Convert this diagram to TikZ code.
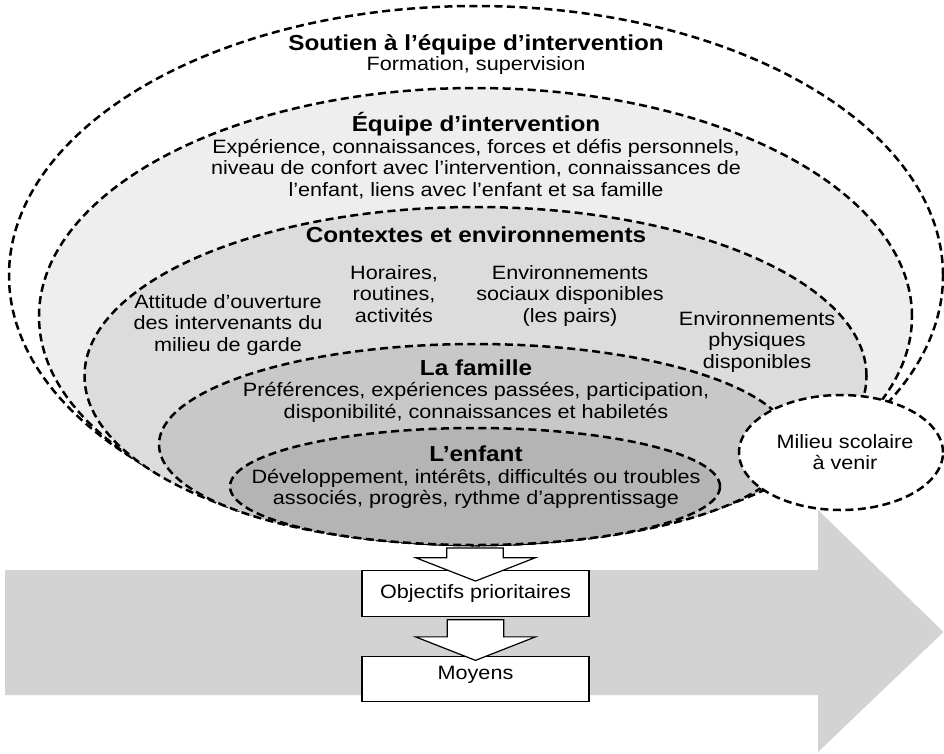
\documentclass[tikz,border=0pt]{standalone}
\usepackage{fontspec}
\setmainfont{Liberation Sans}[FakeStretch=1.12]
\usetikzlibrary{shapes.geometric,calc}
\definecolor{cEqu}{HTML}{EEEEEE}
\definecolor{cCtx}{HTML}{DCDCDC}
\definecolor{cFam}{HTML}{C8C8C8}
\definecolor{cEnf}{HTML}{B4B4B4}
\definecolor{cArrow}{HTML}{D3D3D3}
\newcommand\bodyf{\fontsize{19.3}{21.3}\selectfont}
\newcommand\titlef{\fontsize{21.7}{24}\selectfont\bfseries}
\tikzset{
  zone/.style={ellipse, draw=black, line width=2.5pt, dash pattern=on 8pt off 4.5pt, inner sep=0pt},
  ttl/.style={anchor=base, align=center, font=\titlef, inner sep=0pt},
  txt/.style={anchor=base, align=center, font=\bodyf, inner sep=0pt},
  box/.style={draw=black, line width=1.2pt, fill=white, minimum width=227pt, minimum height=45.5pt, font=\bodyf, inner sep=0pt},
  blockarr/.style={draw=black, line width=1.2pt, fill=white, line join=miter}
}
\begin{document}
\begin{tikzpicture}[x=1pt,y=-1pt]
\useasboundingbox (0,0) rectangle (944,753);
% big grey arrow
\fill[cArrow] (5,570) -- (818,570) -- (818,510) -- (943.5,632) -- (818,752) -- (818,695) -- (5,695) -- cycle;
% nested zones
\node[zone, fill=white, minimum width=934pt, minimum height=539pt] (sout) at (476,275.5) {};
\node[zone, fill=cEqu, minimum width=873pt, minimum height=457pt] (equ) at (475.5,316.5) {};
\node[zone, fill=cCtx, minimum width=782pt, minimum height=338pt] (ctx) at (475.5,376) {};
\node[zone, fill=cFam, minimum width=633pt, minimum height=201pt] (fam) at (475.5,444.5) {};
\node[zone, fill=cEnf, minimum width=490pt, minimum height=117pt] (enf) at (475,486.5) {};
\node[zone, fill=white, minimum width=204pt, minimum height=115pt] (mil) at (841,452.5) {};
% texts (anchor=base is the baseline of the last line)
\node[ttl] (t0) at (476,50) {Soutien à l’équipe d’intervention};
\node[txt] (b0) at (476,70) {Formation, supervision};
\node[ttl] (t1) at (476,131.5) {Équipe d’intervention};
\node[txt] (b1) at (476,196) {Expérience, connaissances, forces et défis personnels,\\niveau de confort avec l’intervention, connaissances de\\l’enfant, liens avec l’enfant et sa famille};
\node[ttl] (t2) at (476,242) {Contextes et environnements};
\node[txt] (c1) at (394,322) {Horaires,\\routines,\\activités};
\node[txt] (c2) at (570,322) {Environnements\\sociaux disponibles\\(les pairs)};
\node[txt] (c3) at (228,351) {Attitude d’ouverture\\des intervenants du\\milieu de garde};
\node[txt] (c4) at (757,368) {Environnements\\physiques\\disponibles};
\node[ttl] (t3) at (476,375) {La famille};
\node[txt] (b3) at (476,418) {Préférences, expériences passées, participation,\\disponibilité, connaissances et habiletés};
\node[ttl] (t4) at (476,461) {L’enfant};
\node[txt] (b4) at (476,504.5) {Développement, intérêts, difficultés ou troubles\\associés, progrès, rythme d’apprentissage};
\node[txt] (m1) at (845,469.5) {Milieu scolaire\\à venir};
% boxes
\node[box, text height=14pt, text depth=4.8pt] (obj) at (475.5,593.4) {Objectifs prioritaires};
\node[box, text height=10pt, text depth=9.4pt] (moy) at (475.5,679) {Moyens};
% block arrows
\coordinate (a1top) at ($(enf.south)+(0,1.7)$);
\coordinate (a1tip) at ($(obj.north)+(0,11)$);
\draw[blockarr] ($(a1top)+(-28.3,0)$) -- ($(a1top)+(28.3,0)$) |- ($(a1tip)+(60,-23.4)$) -- (a1tip) -- ($(a1tip)+(-60,-23.4)$) -| ($(a1top)+(-28.3,0)$) -- cycle;
\coordinate (a2top) at ($(obj.south)+(0,3)$);
\coordinate (a2tip) at ($(moy.north)+(0,4.7)$);
\draw[blockarr] ($(a2top)+(-28.3,0)$) -- ($(a2top)+(28.3,0)$) |- ($(a2tip)+(60,-23.5)$) -- (a2tip) -- ($(a2tip)+(-60,-23.5)$) -| ($(a2top)+(-28.3,0)$) -- cycle;
\end{tikzpicture}
\end{document}
